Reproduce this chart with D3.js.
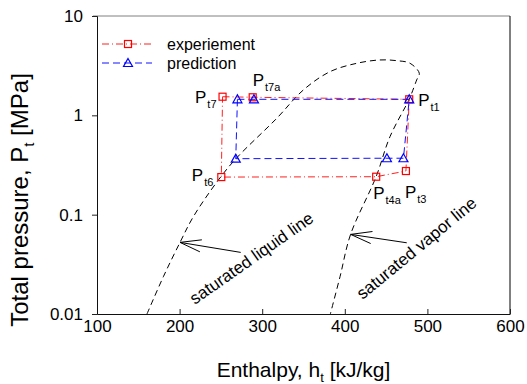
<!DOCTYPE html>
<html>
<head>
<meta charset="utf-8">
<script src="https://cdn.jsdelivr.net/npm/d3@7"></script>
<style>
  body { margin: 0; background: #fff; }
  text { font-family: "Liberation Sans", Arial, sans-serif; }
</style>
</head>
<body>
<script>
// experiment cycle: Pt7, Pt7a, Pt1, Pt3, Pt4a, Pt6, back to Pt7
var hExp = [252, 288.5, 478, 474, 438, 250.5, 252];
var pExp = [1.54, 1.52, 1.45, 0.275, 0.241, 0.239, 1.54];
var expLabels = ['t7', 't7a', 't1', 't3', 't4a', 't6', null];

// prediction cycle
var hPred = [270, 290, 478, 471, 451, 268, 270];
var pPred = [1.45, 1.45, 1.45, 0.37, 0.37, 0.366, 1.45];

// saturation dome (liquid side up, then vapor side down)
var domeH = [160.5, 180.3, 200.5, 216.6, 246.9, 268.3, 317.6, 349.8, 382, 414.4, 442.6, 462.8, 479, 490.2, 487, 481, 478, 454.7, 437.8, 407, 394.2, 382.5];
var domeP = [0.01, 0.0237, 0.0526, 0.0953, 0.223, 0.367, 0.933, 1.80, 2.75, 3.34, 3.61, 3.55, 3.34, 2.65, 2.27, 1.67, 1.45, 0.61, 0.24, 0.0633, 0.0237, 0.01];

var xTicks = [100, 200, 300, 400, 500, 600];
var yTicks = [0.01, 0.1, 1, 10];
var seriesNames = ['experiement', 'prediction'];

window.onload = function() {
  var width = 527, height = 384;
  var svg = d3.select('body').append('svg')
              .attr('width', width)
              .attr('height', height);

  var x = d3.scaleLinear().domain([100, 600]).range([97, 510]);
  var y = d3.scaleLog().domain([0.01, 10]).range([314, 16]);

  // frame
  svg.append('line').attr('x1', 93).attr('x2', 510).attr('y1', 16).attr('y2', 16)
     .attr('stroke', '#808080');
  svg.append('line').attr('x1', 510).attr('x2', 510).attr('y1', 16).attr('y2', 314)
     .attr('stroke', '#000');

  var xAxis = svg.append('g').attr('transform', 'translate(0,314)')
    .call(d3.axisBottom(x).tickValues(xTicks).tickSizeInner(-5).tickSizeOuter(0).tickPadding(6));
  var yAxis = svg.append('g').attr('transform', 'translate(97,0)')
    .call(d3.axisLeft(y).tickValues(yTicks).tickSizeOuter(0).tickSize(5).tickPadding(9)
      .tickFormat(function(d) { return String(d); }));
  [xAxis, yAxis].forEach(function(g) {
    g.selectAll('text').attr('font-size', 17).attr('fill', '#000')
     .attr('font-family', '"Liberation Sans", Arial, sans-serif');
    g.selectAll('line').attr('stroke', '#222');
    g.select('.domain').attr('stroke', '#111');
  });

  // axis titles
  var xt = svg.append('text').attr('x', 303.5).attr('y', 377)
     .attr('text-anchor', 'middle').attr('font-size', 21);
  xt.append('tspan').text('Enthalpy, h');
  xt.append('tspan').attr('font-size', 13).attr('dy', 5).text('t');
  xt.append('tspan').attr('dy', -5).text(' [kJ/kg]');

  var yt = svg.append('text').attr('transform', 'translate(28,200) rotate(-90)')
     .attr('text-anchor', 'middle').attr('font-size', 24);
  yt.append('tspan').text('Total pressure, P');
  yt.append('tspan').attr('font-size', 15).attr('dy', 6).text('t');
  yt.append('tspan').attr('dy', -6).text(' [MPa]');

  svg.append('clipPath').attr('id', 'clip').append('rect')
     .attr('x', 97).attr('y', 16).attr('width', 413).attr('height', 298);

  // saturation dome
  var dome = domeH.map(function(h, i) { return [h, domeP[i]]; });
  svg.append('path')
     .attr('clip-path', 'url(#clip)')
     .attr('d', d3.line().x(function(d) { return x(d[0]); }).y(function(d) { return y(d[1]); })
       .curve(d3.curveCatmullRom)(dome))
     .attr('fill', 'none').attr('stroke', '#000').attr('stroke-width', 1)
     .attr('stroke-dasharray', '6,4');

  var line = d3.line().x(function(d) { return x(d[0]); }).y(function(d) { return y(d[1]); });
  var expPts = hExp.map(function(h, i) { return [h, pExp[i]]; });
  var predPts = hPred.map(function(h, i) { return [h, pPred[i]]; });

  svg.append('path').attr('d', line(expPts))
     .attr('fill', 'none').attr('stroke', '#ff2020').attr('stroke-width', 1)
     .attr('stroke-dasharray', '7,3,1,3');
  svg.append('path').attr('d', line(predPts))
     .attr('fill', 'none').attr('stroke', '#1010ff').attr('stroke-width', 1)
     .attr('stroke-dasharray', '7,4');

  function square(g, cx, cy) {
    g.append('rect').attr('x', cx - 3.5).attr('y', cy - 3.5).attr('width', 7).attr('height', 7)
     .attr('fill', 'none').attr('stroke', '#ff0000').attr('stroke-width', 1.2);
  }
  function tri(g, cx, cy) {
    g.append('path').attr('d', 'M' + cx + ',' + (cy - 4.5) + 'L' + (cx + 4.5) + ',' + (cy + 3.5) +
       'L' + (cx - 4.5) + ',' + (cy + 3.5) + 'Z')
     .attr('fill', 'none').attr('stroke', '#0000ff').attr('stroke-width', 1.2);
  }

  var marks = svg.append('g');
  expPts.slice(0, -1).forEach(function(d) { square(marks, x(d[0]), y(d[1])); });
  predPts.slice(0, -1).forEach(function(d) { tri(marks, x(d[0]), y(d[1])); });

  // point labels: offsets from the marker
  var labelOff = {
    t7: [-6, 6, 'end'], t7a: [0, -11, 'start'], t1: [9, 7, 'start'],
    t3: [-1, 27, 'start'], t4a: [-3, 22, 'start'], t6: [-8, 4, 'end']
  };
  expPts.forEach(function(d, i) {
    var k = expLabels[i];
    if (!k) return;
    var o = labelOff[k];
    var t = svg.append('text').attr('x', x(d[0]) + o[0]).attr('y', y(d[1]) + o[1])
       .attr('text-anchor', o[2]).attr('font-size', 17);
    t.append('tspan').text('P');
    t.append('tspan').attr('font-size', 11).attr('dy', 5).attr('dx', 1).text(k);
  });

  // legend
  var leg = svg.append('g');
  seriesNames.forEach(function(name, i) {
    var ly = 44 + i * 19;
    leg.append('line').attr('x1', 102).attr('x2', 152).attr('y1', ly).attr('y2', ly)
       .attr('stroke', i === 0 ? '#ff2020' : '#1010ff')
       .attr('stroke-dasharray', i === 0 ? '7,3,1,3' : '7,4');
    if (i === 0) square(leg, 128, ly); else tri(leg, 128, ly);
    leg.append('text').attr('x', 167).attr('y', ly + 6).attr('font-size', 16).text(name);
  });

  // annotations with arrows
  var notes = [
    { text: 'saturated liquid line', tip: [200.5, 0.0526], tail: [274, 0.0417], at: [287.3, 0.0363], rot: -35 },
    { text: 'saturated vapor line', tip: [407.1, 0.0633], tail: [475, 0.0521], at: [487, 0.0458], rot: -39.5 }
  ];
  notes.forEach(function(n) {
    var tx = x(n.tip[0]), ty = y(n.tip[1]), sx = x(n.tail[0]), sy = y(n.tail[1]);
    svg.append('line').attr('x1', sx).attr('y1', sy).attr('x2', tx).attr('y2', ty)
       .attr('stroke', '#000');
    var ang = Math.atan2(sy - ty, sx - tx);
    [-0.28, 0.28].forEach(function(a) {
      svg.append('line').attr('x1', tx).attr('y1', ty)
         .attr('x2', tx + 22 * Math.cos(ang + a)).attr('y2', ty + 22 * Math.sin(ang + a))
         .attr('stroke', '#000');
    });
    svg.append('text')
       .attr('transform', 'translate(' + x(n.at[0]) + ',' + y(n.at[1]) + ') rotate(' + n.rot + ')')
       .attr('text-anchor', 'middle').attr('dominant-baseline', 'central')
       .attr('font-size', 17).text(n.text);
  });
};
</script>
</body>
</html>
